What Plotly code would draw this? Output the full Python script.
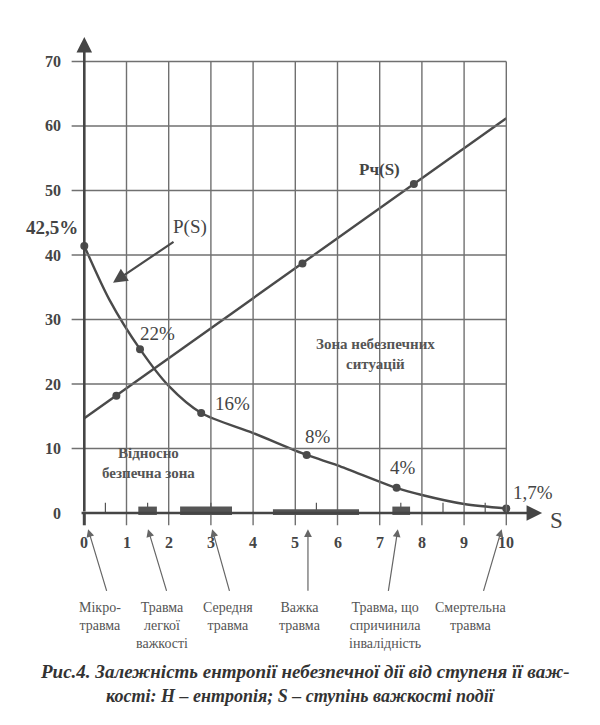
import plotly.graph_objects as go

# --- data ---
s_ticks = [0, 1, 2, 3, 4, 5, 6, 7, 8, 9, 10]
h_ticks = [0, 10, 20, 30, 40, 50, 60, 70]

# P(S): marked points and their labels
p_s = [0, 1.32, 2.77, 5.27, 7.4, 10.0]
p_h = [41.4, 25.4, 15.5, 9.0, 3.9, 0.7]
p_labels = ["42,5%", "22%", "16%", "8%", "4%", "1,7%"]
# P(S) curve traced between the marks
curve_s = [0, 0.6, 1.32, 2.0, 2.77, 4.0, 5.27, 6.0, 7.4, 8.0, 9.0, 10.0]
curve_h = [41.4, 33.0, 25.4, 19.7, 15.5, 12.4, 9.0, 7.4, 3.9, 2.8, 1.4, 0.7]

# Pч(S): straight line and its marked points
pch_s = [0, 10]
pch_h = [14.7, 61.2]
pch_mark_s = [0.76, 5.17, 7.81]
pch_mark_h = [18.2, 38.7, 51.0]

# injury bands drawn on the S axis
band_start = [1.28, 2.27, 4.47, 7.3]
band_end = [1.72, 3.5, 6.51, 7.72]
small_ticks = [0.5, 1.5, 3.0, 5.5, 7.5, 8.5, 9.5]

# injury categories pointing at the axis
cat_labels = ["Мікро-<br>травма", "Травма<br>легкої<br>важкості", "Середня<br>травма",
              "Важка<br>травма", "Травма, що<br>спричинила<br>інвалідність", "Смертельна<br>травма"]
cat_point = [0.09, 1.51, 3.03, 5.30, 7.43, 9.89]
cat_tail = [0.54, 1.96, 3.45, 5.30, 7.20, 9.45]
cat_text = [0.37, 1.84, 3.41, 5.11, 7.13, 9.14]

ink = "#454545"
serif = "Liberation Serif, Times New Roman, serif"

fig = go.Figure()

# grid
shapes = []
for s in s_ticks[1:]:
    shapes.append(dict(type="line", x0=s, x1=s, y0=-1.9, y1=70,
                       line=dict(color="#707070", width=1.4)))
for h in h_ticks[1:]:
    shapes.append(dict(type="line", x0=-0.3, x1=10, y0=h, y1=h,
                       line=dict(color="#707070", width=1.4)))
# bands on the axis
for a, b in zip(band_start, band_end):
    thick = 0.6 if b - a > 1.5 else 1.0
    shapes.append(dict(type="rect", x0=a, x1=b, y0=-0.3, y1=thick,
                       fillcolor="#555", line=dict(width=0)))
for s in small_ticks:
    shapes.append(dict(type="line", x0=s, x1=s, y0=0, y1=1.6,
                       line=dict(color="#555", width=1.2)))
shapes.append(dict(type="line", x0=0, x1=0, y0=-1.9, y1=0,
                   line=dict(color=ink, width=3)))

# P(S) curve
fig.add_trace(go.Scatter(x=curve_s, y=curve_h, mode="lines",
                         line=dict(color="#4a4a4a", width=2.4, shape="spline", smoothing=0.8),
                         hoverinfo="skip", showlegend=False))
fig.add_trace(go.Scatter(x=p_s, y=p_h, mode="markers",
                         marker=dict(color="#4a4a4a", size=8),
                         showlegend=False))
# Pч(S) line
fig.add_trace(go.Scatter(x=pch_s, y=pch_h, mode="lines",
                         line=dict(color="#4a4a4a", width=2.4),
                         hoverinfo="skip", showlegend=False))
fig.add_trace(go.Scatter(x=pch_mark_s, y=pch_mark_h, mode="markers",
                         marker=dict(color="#4a4a4a", size=8),
                         showlegend=False))

ann = []
# axes with arrows
ann.append(dict(x=10.85, y=0, ax=-0.1, ay=0, xref="x", yref="y", axref="x", ayref="y",
                text="", showarrow=True, arrowhead=2, arrowsize=1.2, arrowwidth=2.6,
                arrowcolor=ink))
ann.append(dict(x=0, y=73.8, ax=0, ay=0, xref="x", yref="y", axref="x", ayref="y",
                text="", showarrow=True, arrowhead=2, arrowsize=1.2, arrowwidth=2.6,
                arrowcolor=ink))
ann.append(dict(x=11.2, y=-1.1, xref="x", yref="y", text="S", showarrow=False,
                font=dict(family=serif, size=23, color=ink)))

# tick labels
for s in s_ticks:
    ann.append(dict(x=s, y=-4.6, xref="x", yref="y", text=f"<b>{s}</b>", showarrow=False,
                    font=dict(family=serif, size=16, color=ink)))
for h in h_ticks:
    ann.append(dict(x=-0.5, y=h, xref="x", yref="y", text=f"<b>{h}</b>", showarrow=False,
                    xanchor="right", font=dict(family=serif, size=16, color=ink)))

# percentage labels next to the P(S) marks
label_shift = [(-32, 18), (17, 16), (31, 10), (11, 18), (6, 20), (27, 16)]
for s, h, t, (dx, dy) in zip(p_s, p_h, p_labels, label_shift):
    txt = f"<b>{t}</b>" if t == "42,5%" else t
    ann.append(dict(x=s, y=h, xref="x", yref="y", text=txt, showarrow=False,
                    xshift=dx, yshift=dy, font=dict(family=serif, size=19, color="#444")))

# curve names
ann.append(dict(x=2.5, y=44.3, xref="x", yref="y", text="P(S)", showarrow=False,
                font=dict(family=serif, size=19, color="#444")))
ann.append(dict(x=0.68, y=35.7, ax=2.15, ay=42.2, xref="x", yref="y", axref="x", ayref="y",
                text="", showarrow=True, arrowhead=2, arrowsize=1.3, arrowwidth=2.2,
                arrowcolor="#4a4a4a"))
ann.append(dict(x=7.0, y=53.2, xref="x", yref="y", text="<b>Pч(S)</b>", showarrow=False,
                font=dict(family=serif, size=17, color="#444")))

# zone labels
ann.append(dict(x=6.9, y=24.6, xref="x", yref="y", text="<b>Зона небезпечних<br>ситуацій</b>",
                showarrow=False, font=dict(family=serif, size=15, color="#555")))
ann.append(dict(x=1.52, y=7.7, xref="x", yref="y", text="<b>Відносно<br>безпечна зона</b>",
                showarrow=False, font=dict(family=serif, size=15, color="#555")))

# category arrows and labels
for pt, tl, tx, lab in zip(cat_point, cat_tail, cat_text, cat_labels):
    ann.append(dict(x=pt, y=-2.5, ax=tl, ay=-12.3, xref="x", yref="y", axref="x", ayref="y",
                    text="", showarrow=True, arrowhead=2, arrowsize=1.3, arrowwidth=1.2,
                    arrowcolor="#666"))
    ann.append(dict(x=tx, y=-13.2, xref="x", yref="y", text=lab, showarrow=False,
                    yanchor="top", font=dict(family=serif, size=14, color="#555")))

# caption (page has an 8px body offset)
ann.append(dict(x=30 / 600, y=1 - 676 / 725, xref="paper", yref="paper", xanchor="left",
                text="<b><i>Рис.4. Залежність ентропії небезпечної дії від ступеня її важ-</i></b>",
                showarrow=False, font=dict(family=serif, size=19, color="#333")))
ann.append(dict(x=292 / 600, y=1 - 700 / 725, xref="paper", yref="paper",
                text="<b><i>кості: H – ентропія; S – ступінь важкості події</i></b>",
                showarrow=False, font=dict(family=serif, size=18, color="#333")))

fig.update_layout(
    width=600, height=725,
    margin=dict(l=0, r=0, t=0, b=0),
    paper_bgcolor="white", plot_bgcolor="white",
    xaxis=dict(range=[-1.808, 12.41], visible=False, fixedrange=True),
    yaxis=dict(range=[-34.1, 78.29], visible=False, fixedrange=True),
    shapes=shapes, annotations=ann,
    showlegend=False,
)

fig.write_html("out.html")
